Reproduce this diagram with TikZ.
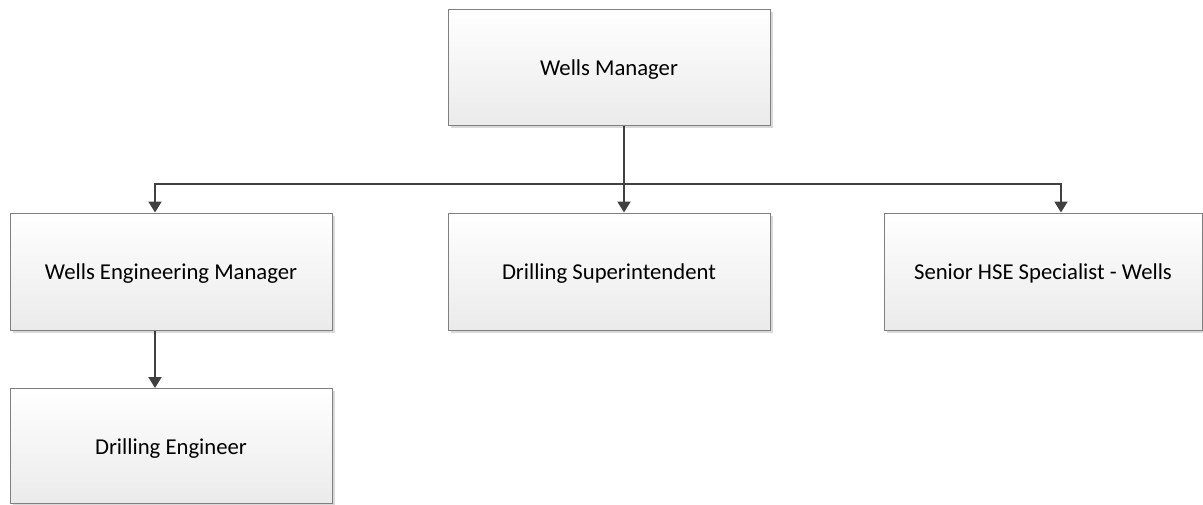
\documentclass[tikz,border=0pt]{standalone}
\usepackage{fontspec}
\setmainfont{Carlito}
\usetikzlibrary{arrows.meta,shadows,calc}
\definecolor{boxline}{HTML}{7F7F7F}
\definecolor{conn}{HTML}{404040}
\tikzset{
  orgbox/.style={draw=boxline, line width=1pt, top color=white, bottom color=black!8,
    drop shadow={shadow xshift=2.5pt, shadow yshift=-2.5pt, fill=black!25, opacity=0.6},
    minimum width=322pt, minimum height=116pt, inner sep=0pt,
    text height=16pt, text depth=0pt,
    font=\fontsize{22.7}{27}\selectfont, text=black},
  link/.style={draw=conn, line width=2pt, -{Triangle[width=13pt,length=11pt]}}
}
\begin{document}
\begin{tikzpicture}[x=1pt,y=-1pt]
\useasboundingbox (0,0) rectangle (1203,504);
\node[orgbox] (wm) at (609,67) {Wells Manager};
\node[orgbox, minimum height=117pt] (wem) at (171,271.5) {Wells Engineering Manager};
\node[orgbox, minimum height=117pt] (ds) at (609,271.5) {Drilling Superintendent};
\node[orgbox, minimum width=318pt, minimum height=117pt] (hse) at (1043,271.5) {Senior HSE Specialist - Wells};
\node[orgbox, minimum height=115pt] (de) at (171,446) {Drilling Engineer};
\coordinate (bus) at ($(wm.south)+(15,58)$);
\draw[link] ($(wm.south)+(15,0)$) -- ($(ds.north)+(15,0)$);
\draw[link] (bus) -| ($(wem.north)+(-16,0)$);
\draw[link] (bus) -| ($(hse.north)+(18,0)$);
\draw[link] ($(wem.south)+(-16,0)$) -- ($(de.north)+(-16,0)$);
\end{tikzpicture}
\end{document}
